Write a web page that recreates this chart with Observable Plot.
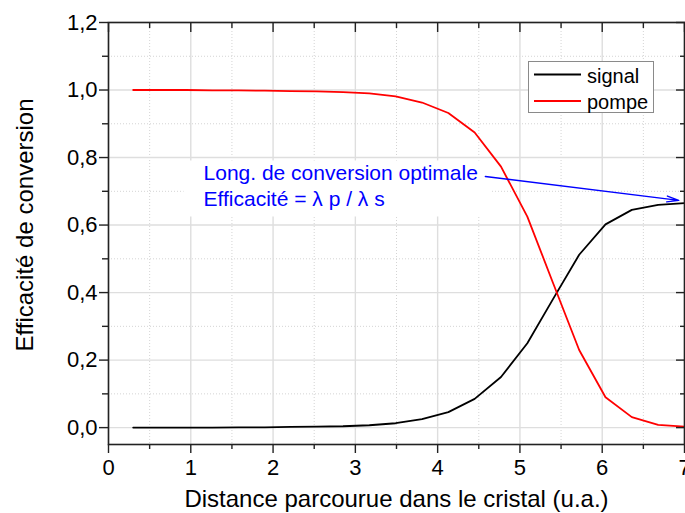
<!DOCTYPE html>
<html><head><meta charset="utf-8">
<script src="https://cdn.jsdelivr.net/npm/d3@7"></script>
<script src="https://cdn.jsdelivr.net/npm/@observablehq/plot@0.6"></script>
<style>body{margin:0;background:#fff;} svg{display:block}</style>
</head><body><div id="chart"></div>
<script>
// ---- data ----
const distance = [0.30, 0.62, 0.94, 1.26, 1.58, 1.90, 2.21, 2.53, 2.85, 3.17, 3.49, 3.81, 4.13, 4.45, 4.77, 5.09, 5.40, 5.72, 6.04, 6.36, 6.68, 7.00];
const signal   = [0.000, 0.000, 0.000, 0.000, 0.001, 0.001, 0.002, 0.003, 0.004, 0.007, 0.013, 0.025, 0.046, 0.085, 0.150, 0.250, 0.380, 0.512, 0.602, 0.645, 0.660, 0.665];
const pompe    = [1.000, 1.000, 1.000, 0.999, 0.999, 0.998, 0.997, 0.996, 0.994, 0.990, 0.981, 0.963, 0.932, 0.874, 0.773, 0.625, 0.430, 0.230, 0.090, 0.031, 0.008, 0.003];
const seriesNames  = ["signal", "pompe"];
const seriesColors = ["#000000", "#ff0000"];
const xTicks      = [0, 1, 2, 3, 4, 5, 6, 7];
const xMinorTicks = [0.5, 1.5, 2.5, 3.5, 4.5, 5.5, 6.5];
const yTicks      = [0, 0.2, 0.4, 0.6, 0.8, 1.0, 1.2];
const yMinorTicks = [0.1, 0.3, 0.5, 0.7, 0.9, 1.1];
const xLabel = "Distance parcourue dans le cristal (u.a.)";
const yLabel = "Efficacité de conversion";
const annotationLines = ["Long. de conversion optimale", "Efficacité = λ p / λ s"];
const annotationX = [1.155, 1.155];
const annotationY = [0.732, 0.655];
const arrowFrom = [4.58, 0.744];
const arrowTo   = [6.93, 0.673];

// ---- tables built from the arrays ----
const rows = distance.flatMap((d, i) => [
  {d, v: signal[i], s: seriesNames[0]},
  {d, v: pompe[i],  s: seriesNames[1]}
]);
const annRows = annotationLines.map((t, i) => ({t, x: annotationX[i], y: annotationY[i]}));
const arrowRows = [{x1: arrowFrom[0], y1: arrowFrom[1], x2: arrowTo[0], y2: arrowTo[1]}];
const fmt = d => d.toFixed(1).replace(".", ",");
const blank = () => "";
const FONT = "'Liberation Sans', Arial, Helvetica, sans-serif";

const plot = Plot.plot({
  width: 685, height: 513,
  marginLeft: 108, marginRight: 1, marginTop: 22, marginBottom: 69,
  style: {fontFamily: FONT, fontSize: "22px", background: "white", color: "black"},
  x: {domain: [0, 7], label: null},
  y: {domain: [-0.05, 1.2], label: null},
  color: {domain: seriesNames, range: seriesColors},
  marks: [
    Plot.gridX(xMinorTicks, {stroke: "#d4d4d4", strokeOpacity: 1, strokeDasharray: "1,2"}),
    Plot.gridY(yMinorTicks, {stroke: "#d4d4d4", strokeOpacity: 1, strokeDasharray: "1,2"}),
    Plot.gridX(xTicks, {stroke: "#dedede", strokeOpacity: 1, strokeWidth: 1.4}),
    Plot.gridY(yTicks, {stroke: "#dedede", strokeOpacity: 1, strokeWidth: 1.4}),
    Plot.line(rows, {x: "d", y: "v", z: "s", stroke: "s", strokeWidth: 1.8}),
    Plot.arrow(arrowRows, {x1: "x1", y1: "y1", x2: "x2", y2: "y2", stroke: "#0000ff", strokeWidth: 1.4, headLength: 13, headAngle: 28}),
    Plot.text(annRows, {x: "x", y: "y", text: "t", fill: "#0000ff", fontSize: 21, textAnchor: "start", lineAnchor: "bottom"}),
    Plot.axisX(xTicks, {anchor: "bottom", tickSize: 9, tickPadding: 6, tickFormat: d => String(d), label: null, stroke: "#222", strokeWidth: 1.4}),
    Plot.axisX(xMinorTicks, {anchor: "bottom", tickSize: 5, tickFormat: blank, label: null, stroke: "#222", strokeWidth: 1.4}),
    Plot.axisX(xTicks, {anchor: "top", tickSize: -9, tickFormat: blank, label: null, stroke: "#222", strokeWidth: 1.4}),
    Plot.axisX(xMinorTicks, {anchor: "top", tickSize: -5, tickFormat: blank, label: null, stroke: "#222", strokeWidth: 1.4}),
    Plot.axisY(yTicks, {anchor: "left", tickSize: 9, tickPadding: 2, tickFormat: fmt, label: null, stroke: "#222", strokeWidth: 1.4}),
    Plot.axisY(yMinorTicks, {anchor: "left", tickSize: 6, tickFormat: blank, label: null, stroke: "#222", strokeWidth: 1.4}),
    Plot.axisY(yTicks, {anchor: "right", tickSize: -9, tickFormat: blank, label: null, stroke: "#222", strokeWidth: 1.4}),
    Plot.axisY(yMinorTicks, {anchor: "right", tickSize: -5, tickFormat: blank, label: null, stroke: "#222", strokeWidth: 1.4}),
    Plot.frame({stroke: "#222", strokeWidth: 1.6}),
    Plot.text([xLabel], {frameAnchor: "bottom", dy: 62, fontSize: 24, textAnchor: "middle", lineAnchor: "bottom"}),
    Plot.text([yLabel], {frameAnchor: "left", rotate: -90, dx: -76, dy: -8.5, fontSize: 24, textAnchor: "middle", lineAnchor: "bottom"})
  ]
});
document.getElementById("chart").appendChild(plot);

// ---- white box behind the annotation text (from its rendered bounds) ----
const svgRect = plot.getBoundingClientRect();
let bx0 = Infinity, by0 = Infinity, bx1 = -Infinity, by1 = -Infinity;
plot.querySelectorAll("text").forEach(t => {
  if (annotationLines.includes(t.textContent)) {
    const r = t.getBoundingClientRect();
    bx0 = Math.min(bx0, r.left - svgRect.left); by0 = Math.min(by0, r.top - svgRect.top);
    bx1 = Math.max(bx1, r.right - svgRect.left); by1 = Math.max(by1, r.bottom - svgRect.top);
  }
});
const lineG = plot.querySelector('g[aria-label="line"]');
if (isFinite(bx0) && lineG) {
  const rect = document.createElementNS("http://www.w3.org/2000/svg", "rect");
  rect.setAttribute("x", bx0 - 20); rect.setAttribute("y", by0 - 1);
  rect.setAttribute("width", bx1 - bx0 + 33); rect.setAttribute("height", by1 - by0 + 7);
  rect.setAttribute("fill", "white");
  lineG.parentNode.insertBefore(rect, lineG);
}

// ---- legend ----
const svg = d3.select(plot);
const leg = svg.append("g").attr("font-family", FONT).attr("font-size", 20).attr("text-anchor", "start");
leg.append("rect").attr("x", 528.5).attr("y", 61.5).attr("width", 125).attr("height", 51)
  .attr("fill", "white").attr("stroke", "#8a8a8a").attr("stroke-width", 1);
seriesNames.forEach((n, i) => {
  const y = 74.5 + i * 26.5;
  leg.append("line").attr("x1", 534).attr("x2", 581).attr("y1", y).attr("y2", y)
    .attr("stroke", seriesColors[i]).attr("stroke-width", 1.8);
  leg.append("text").attr("x", 587).attr("y", y + 8).attr("fill", "black").attr("text-anchor", "start").text(n);
});
</script>
</body></html>
